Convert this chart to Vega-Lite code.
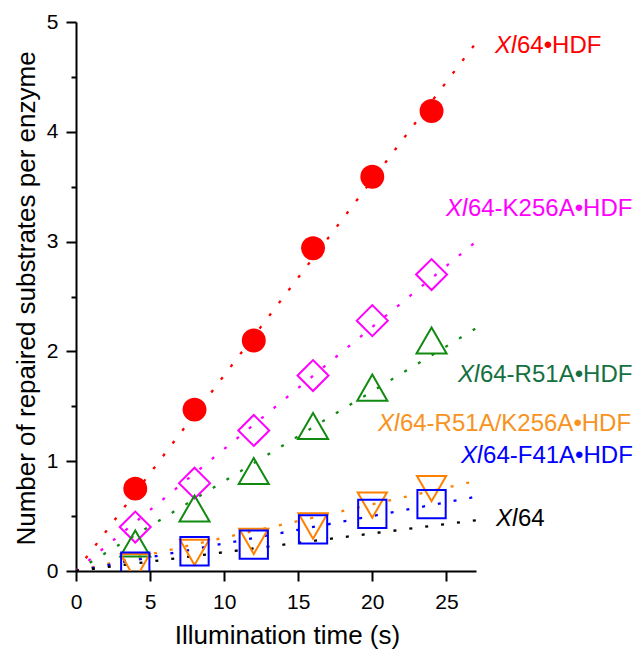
{
  "$schema": "https://vega.github.io/schema/vega-lite/v6.json",
  "width": 400,
  "height": 549,
  "autosize": {"type": "none"},
  "padding": {"left": 76, "top": 22, "right": 157, "bottom": 79},
  "background": "white",
  "config": {"view": {"stroke": null}, "font": "Liberation Sans"},
  "datasets": {
    "points": [
      {"series": "Xl64•HDF", "t": 4, "n": 0.75},
      {"series": "Xl64•HDF", "t": 8, "n": 1.47},
      {"series": "Xl64•HDF", "t": 12, "n": 2.10},
      {"series": "Xl64•HDF", "t": 16, "n": 2.94},
      {"series": "Xl64•HDF", "t": 20, "n": 3.59},
      {"series": "Xl64•HDF", "t": 24, "n": 4.19},
      {"series": "Xl64-K256A•HDF", "t": 4, "n": 0.40},
      {"series": "Xl64-K256A•HDF", "t": 8, "n": 0.80},
      {"series": "Xl64-K256A•HDF", "t": 12, "n": 1.28},
      {"series": "Xl64-K256A•HDF", "t": 16, "n": 1.78},
      {"series": "Xl64-K256A•HDF", "t": 20, "n": 2.28},
      {"series": "Xl64-K256A•HDF", "t": 24, "n": 2.70},
      {"series": "Xl64-R51A•HDF", "t": 4, "n": 0.25},
      {"series": "Xl64-R51A•HDF", "t": 8, "n": 0.57},
      {"series": "Xl64-R51A•HDF", "t": 12, "n": 0.91},
      {"series": "Xl64-R51A•HDF", "t": 16, "n": 1.32},
      {"series": "Xl64-R51A•HDF", "t": 20, "n": 1.67},
      {"series": "Xl64-R51A•HDF", "t": 24, "n": 2.10},
      {"series": "Xl64-R51A/K256A•HDF", "t": 4, "n": 0.04},
      {"series": "Xl64-R51A/K256A•HDF", "t": 8, "n": 0.17},
      {"series": "Xl64-R51A/K256A•HDF", "t": 12, "n": 0.27},
      {"series": "Xl64-R51A/K256A•HDF", "t": 16, "n": 0.41},
      {"series": "Xl64-R51A/K256A•HDF", "t": 20, "n": 0.60},
      {"series": "Xl64-R51A/K256A•HDF", "t": 24, "n": 0.75},
      {"series": "Xl64-F41A•HDF", "t": 4, "n": 0.04},
      {"series": "Xl64-F41A•HDF", "t": 8, "n": 0.18},
      {"series": "Xl64-F41A•HDF", "t": 12, "n": 0.24},
      {"series": "Xl64-F41A•HDF", "t": 16, "n": 0.38},
      {"series": "Xl64-F41A•HDF", "t": 20, "n": 0.52},
      {"series": "Xl64-F41A•HDF", "t": 24, "n": 0.61}
    ],
    "fits": [
      {"series": "Xl64•HDF", "t": 0, "n": 0},
      {"series": "Xl64•HDF", "t": 27, "n": 4.81},
      {"series": "Xl64-K256A•HDF", "t": 0, "n": 0},
      {"series": "Xl64-K256A•HDF", "t": 27, "n": 3.0},
      {"series": "Xl64-R51A•HDF", "t": 0, "n": 0},
      {"series": "Xl64-R51A•HDF", "t": 27, "n": 2.21},
      {"series": "Xl64-R51A/K256A•HDF", "t": 0, "n": 0},
      {"series": "Xl64-R51A/K256A•HDF", "t": 27, "n": 0.82},
      {"series": "Xl64-F41A•HDF", "t": 0, "n": 0},
      {"series": "Xl64-F41A•HDF", "t": 27, "n": 0.676},
      {"series": "Xl64", "t": 0, "n": 0},
      {"series": "Xl64", "t": 27, "n": 0.462}
    ],
    "labels": [
      {"series": "Xl64•HDF", "rest": "64•HDF", "t": 28.28, "n": 4.718},
      {"series": "Xl64-K256A•HDF", "rest": "64-K256A•HDF", "t": 24.97, "n": 3.233},
      {"series": "Xl64-R51A•HDF", "rest": "64-R51A•HDF", "t": 25.78, "n": 1.721},
      {"series": "Xl64-R51A/K256A•HDF", "rest": "64-R51A/K256A•HDF", "t": 20.38, "n": 1.275},
      {"series": "Xl64-F41A•HDF", "rest": "64-F41A•HDF", "t": 25.99, "n": 0.984},
      {"series": "Xl64", "rest": "64", "t": 28.35, "n": 0.41}
    ]
  },
  "layer": [
    {
      "data": {"name": "fits"},
      "mark": {"type": "line", "strokeDash": [3, 13], "strokeWidth": 2.3, "clip": true},
      "encoding": {
        "x": {
          "field": "t", "type": "quantitative",
          "scale": {"domain": [0, 27], "nice": false, "zero": false},
          "axis": {
            "title": "Illumination time (s)",
            "values": [0, 2.5, 5, 7.5, 10, 12.5, 15, 17.5, 20, 22.5, 25],
            "format": "d",
            "labelExpr": "datum.value % 5 === 0 ? format(datum.value, 'd') : ''",
            "tickSize": {"condition": {"test": "datum.value % 5 === 0", "value": 10}, "value": 5},
            "tickWidth": 2, "tickColor": "#000",
            "domainWidth": 2, "domainColor": "#000",
            "labelFont": "Liberation Sans", "labelFontSize": 21, "labelColor": "#000",
            "labelPadding": 10, "labelFlush": false, "labelOverlap": false,
            "titleFont": "Liberation Sans", "titleFontSize": 26, "titleFontWeight": "normal", "titleColor": "#000",
            "titleX": 211, "titleY": 72, "titleBaseline": "alphabetic", "titleAlign": "center",
            "grid": false
          }
        },
        "y": {
          "field": "n", "type": "quantitative",
          "scale": {"domain": [0, 5], "nice": false, "zero": false},
          "axis": {
            "title": "Number of repaired substrates per enzyme",
            "values": [0, 0.5, 1, 1.5, 2, 2.5, 3, 3.5, 4, 4.5, 5],
            "labelExpr": "datum.value % 1 === 0 ? format(datum.value, 'd') : ''",
            "tickSize": {"condition": {"test": "datum.value % 1 === 0", "value": 10}, "value": 5},
            "tickWidth": 2, "tickColor": "#000",
            "domainWidth": 2, "domainColor": "#000",
            "labelFont": "Liberation Sans", "labelFontSize": 21, "labelColor": "#000",
            "labelPadding": 8, "labelFlush": false, "labelOverlap": false,
            "titleFont": "Liberation Sans", "titleFontSize": 26, "titleFontWeight": "normal", "titleColor": "#000",
            "titleX": -42, "titleY": 276, "titleAngle": -90, "titleBaseline": "alphabetic", "titleAlign": "center",
            "grid": false
          }
        },
        "stroke": {
          "field": "series", "type": "nominal",
          "scale": {
            "domain": ["Xl64•HDF", "Xl64-K256A•HDF", "Xl64-R51A•HDF", "Xl64-R51A/K256A•HDF", "Xl64-F41A•HDF", "Xl64"],
            "range": ["#FF0000", "#FF00FF", "#108A10", "#FF8000", "#0000FF", "#000000"]
          },
          "legend": null
        },
        "detail": {"field": "series"}
      }
    },
    {
      "data": {"name": "points"},
      "transform": [{"filter": "datum.series !== 'Xl64•HDF'"}],
      "mark": {"type": "point", "filled": false, "strokeWidth": 2, "opacity": 1, "clip": true},
      "encoding": {
        "x": {"field": "t", "type": "quantitative"},
        "y": {"field": "n", "type": "quantitative"},
        "stroke": {"field": "series", "type": "nominal", "legend": null},
        "shape": {
          "field": "series", "type": "nominal",
          "scale": {
            "domain": ["Xl64-K256A•HDF", "Xl64-R51A•HDF", "Xl64-R51A/K256A•HDF", "Xl64-F41A•HDF"],
            "range": ["diamond", "triangle-up", "triangle-down", "square"]
          },
          "legend": null
        },
        "size": {
          "field": "series", "type": "nominal",
          "scale": {
            "domain": ["Xl64-K256A•HDF", "Xl64-R51A•HDF", "Xl64-R51A/K256A•HDF", "Xl64-F41A•HDF"],
            "range": [960, 800, 800, 420]
          },
          "legend": null
        }
      }
    },
    {
      "data": {"name": "points"},
      "transform": [{"filter": "datum.series === 'Xl64•HDF'"}],
      "mark": {"type": "circle", "color": "#FF0000", "size": 572, "opacity": 1, "clip": true},
      "encoding": {
        "x": {"field": "t", "type": "quantitative"},
        "y": {"field": "n", "type": "quantitative"}
      }
    },
    {
      "data": {"name": "labels"},
      "mark": {"type": "text", "align": "left", "baseline": "alphabetic", "font": "Liberation Sans", "fontSize": 24, "fontStyle": "italic", "text": "Xl"},
      "encoding": {
        "x": {"field": "t", "type": "quantitative"},
        "y": {"field": "n", "type": "quantitative"},
        "fill": {
          "field": "series", "type": "nominal",
          "scale": {
            "domain": ["Xl64•HDF", "Xl64-K256A•HDF", "Xl64-R51A•HDF", "Xl64-R51A/K256A•HDF", "Xl64-F41A•HDF", "Xl64"],
            "range": ["#FF0000", "#FF00FF", "#157040", "#F7931E", "#0000FF", "#000000"]
          },
          "legend": null
        }
      }
    },
    {
      "data": {"name": "labels"},
      "mark": {"type": "text", "align": "left", "baseline": "alphabetic", "font": "Liberation Sans", "fontSize": 24, "dx": 22},
      "encoding": {
        "x": {"field": "t", "type": "quantitative"},
        "y": {"field": "n", "type": "quantitative"},
        "text": {"field": "rest"},
        "fill": {"field": "series", "type": "nominal", "legend": null}
      }
    }
  ]
}
